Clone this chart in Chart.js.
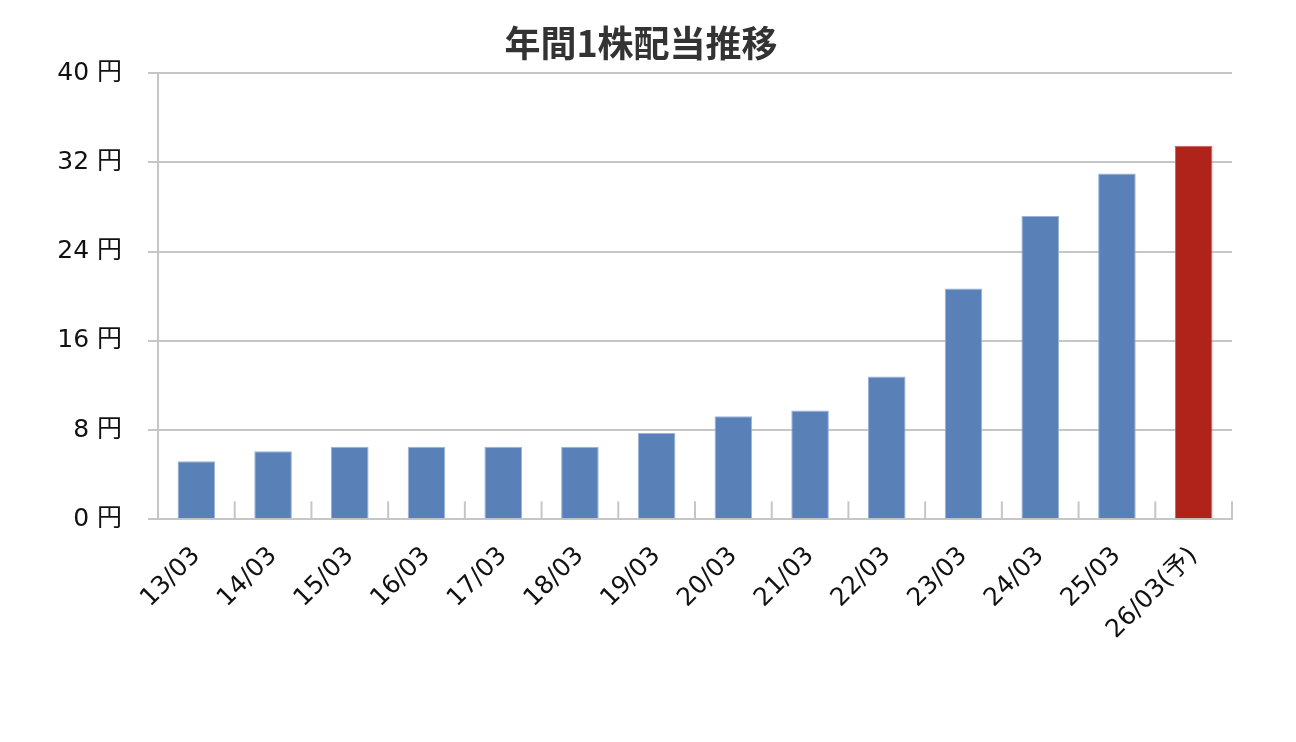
<!DOCTYPE html>
<html>
<head>
<meta charset="utf-8">
<script src="https://cdn.jsdelivr.net/npm/chart.js@4"></script>
<style>
  html, body { margin: 0; padding: 0; background: #fff; }
  #wrap { width: 1296px; height: 742px; }
</style>
</head>
<body>
<div id="wrap"><canvas id="c" width="1296" height="742"></canvas></div>
<script>
const categories = ["13/03","14/03","15/03","16/03","17/03","18/03","19/03","20/03","21/03","22/03","23/03","24/03","25/03","26/03(予)"];
const dividends = [5.2, 6.1, 6.5, 6.5, 6.5, 6.5, 7.75, 9.25, 9.75, 12.8, 20.7, 27.2, 31.0, 33.5];
const yTicks = [0, 8, 16, 24, 32, 40];
const titleText = "年間1株配当推移";
const unit = "円";

const FONT = "'DejaVu Sans', 'Noto Sans CJK JP', sans-serif";
const TFONT = "'Noto Sans CJK JP', sans-serif";
const GRID = "#c6c6c6";
const BLUE = "#5a80b8";
const RED = "#b0231a";

const innerTicks = {
  id: 'innerTicks',
  afterDatasetsDraw(chart) {
    const x = chart.scales.x, y = chart.scales.y, ctx = chart.ctx;
    const base = y.getPixelForValue(0);
    ctx.save();
    ctx.strokeStyle = GRID;
    ctx.lineWidth = 2;
    const n = categories.length;
    for (let i = 1; i <= n; i++) {
      let px;
      if (i < n) px = (x.getPixelForValue(i - 1) + x.getPixelForValue(i)) / 2;
      else px = chart.chartArea.right;
      ctx.beginPath();
      ctx.moveTo(px, base);
      ctx.lineTo(px, base - 18);
      ctx.stroke();
    }
    ctx.restore();
  }
};

new Chart(document.getElementById('c'), {
  type: 'bar',
  data: {
    labels: categories,
    datasets: [{
      data: dividends,
      backgroundColor: (ctx) => categories[ctx.dataIndex] && categories[ctx.dataIndex].includes('予') ? RED : BLUE,
      borderColor: (ctx) => categories[ctx.dataIndex] && categories[ctx.dataIndex].includes('予') ? '#c8605a' : '#9cb3d8',
      borderWidth: 1,
      barPercentage: 0.49,
      categoryPercentage: 1.0
    }]
  },
  options: {
    responsive: false,
    animation: false,
    layout: { padding: { left: 50, right: 64, top: 0, bottom: 75 } },
    plugins: {
      legend: { display: false },
      tooltip: { enabled: false },
      title: {
        display: true,
        text: titleText,
        color: '#333',
        font: { family: TFONT, size: 36, weight: 'bold' },
        padding: { top: 22, bottom: 8 }
      }
    },
    scales: {
      x: {
        offset: true,
        grid: { display: false, drawTicks: false },
        border: { display: true, color: GRID, width: 2 },
        ticks: {
          color: '#111',
          font: { family: FONT, size: 25 },
          minRotation: 45, maxRotation: 45,
          autoSkip: false,
          padding: 22
        }
      },
      y: {
        min: 0, max: 40,
        afterBuildTicks: (s) => { s.ticks = yTicks.map(v => ({ value: v })); },
        afterFit: (s) => { s.width = 108; },
        grid: { color: GRID, lineWidth: 2, tickLength: 10 },
        border: { display: true, color: GRID, width: 2 },
        ticks: {
          color: '#111',
          font: { family: FONT, size: 25 },
          padding: 26,
          callback: (v) => v + ' ' + unit
        }
      }
    }
  },
  plugins: [innerTicks]
});
</script>
</body>
</html>
